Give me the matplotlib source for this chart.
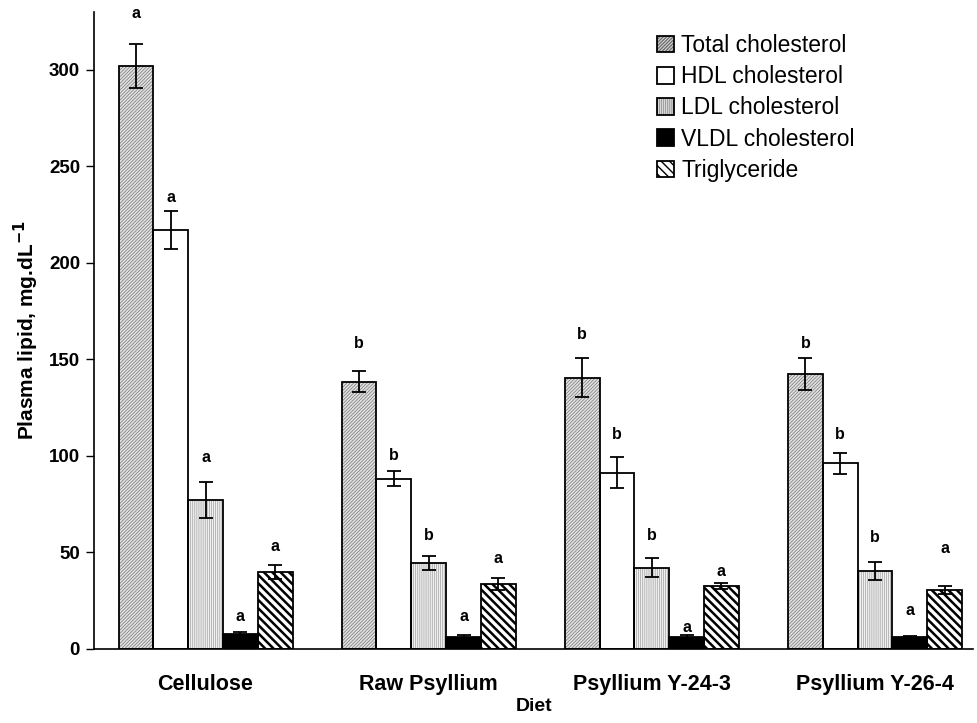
import numpy as np
import matplotlib.pyplot as plt

plt.rcParams["font.family"] = ["Liberation Sans", "DejaVu Sans"]

# ---------------- data ----------------
diets = ["Cellulose", "Raw Psyllium", "Psyllium Y-24-3", "Psyllium Y-26-4"]
series = ["Total cholesterol", "HDL cholesterol", "LDL cholesterol",
          "VLDL cholesterol", "Triglyceride"]

means = [
    [302, 138.5, 140.5, 142.5],   # total
    [217, 88.3, 91.4, 96.1],      # HDL
    [77.4, 44.6, 42.1, 40.5],     # LDL
    [8.0, 6.2, 6.2, 6.2],         # VLDL
    [40.0, 33.7, 32.7, 30.6],     # TG
]
errors = [
    [11.5, 5.5, 10.0, 8.5],
    [10.0, 3.7, 8.0, 5.5],
    [9.3, 3.7, 5.0, 4.8],
    [0.8, 0.8, 0.8, 0.3],
    [3.6, 3.0, 1.6, 2.0],
]
letters = [
    ["a", "b", "b", "b"],
    ["a", "b", "b", "b"],
    ["a", "b", "b", "b"],
    ["a", "a", "a", "a"],
    ["a", "a", "a", "a"],
]
letter_y = [
    [329, 158, 163, 158],
    [234, 100, 111, 111],
    [99, 59, 59, 58],
    [17, 17, 11, 20],
    [53, 47, 40, 52],
]

# fill styles: face, hatch colour, hatch, hatch linewidth
styles = [
    ("#e0e0e0", "#6e6e6e", "//////////", 0.45),
    ("white", "white", "", 0.5),
    ("#f0f0f0", "#a0a0a0", "||||||||", 0.5),
    ("black", "black", "", 0.5),
    ("white", "black", "\\\\\\\\", 1.8),
]

fig = plt.figure(figsize=(9.78, 7.23), dpi=100)
ax = fig.add_axes([0.0961, 0.1024, 0.899, 0.881])

x = np.arange(len(diets))
width = 0.156
handles = []
for i, name in enumerate(series):
    pos = x + (i - 2) * width
    face, hcol, hatch, hlw = styles[i]
    with plt.rc_context({"hatch.linewidth": hlw}):
        b1 = ax.bar(pos, means[i], width, color=face, edgecolor=hcol,
                    hatch=hatch, linewidth=0, zorder=2)
    b2 = ax.bar(pos, means[i], width, fill=False, edgecolor="black",
                linewidth=1.3, zorder=3)
    ax.errorbar(pos, means[i], yerr=errors[i], fmt="none", ecolor="black",
                elinewidth=1.3, capsize=5, capthick=1.3, zorder=4)
    for j in range(len(diets)):
        ax.text(pos[j], letter_y[i][j], letters[i][j], ha="center",
                va="center", fontsize=11.5, fontweight="bold")
    handles.append((b1.patches[0], b2.patches[0]))

ax.set_xlim(-0.5, 3.44)
ax.set_ylim(0, 330)
ax.set_yticks(np.arange(0, 301, 50))
ax.set_xticks(x)
ax.set_xticklabels(diets, fontsize=15.5, fontweight="bold")
ax.tick_params(axis="x", length=0, pad=18)
ax.tick_params(axis="y", length=6, width=1, labelsize=13.5, pad=4)
for lab in ax.get_yticklabels():
    lab.set_fontweight("bold")

ax.spines["top"].set_visible(False)
ax.spines["right"].set_visible(False)
ax.spines["left"].set_linewidth(1.2)
ax.spines["bottom"].set_linewidth(1.2)

ax.set_xlabel("Diet", fontsize=14, fontweight="bold", labelpad=2)
ax.set_ylabel(r"Plasma lipid, mg.dL$^{\mathbf{-1}}$", fontsize=15,
              fontweight="bold", labelpad=6)

fig.legend(handles, series, loc="upper left",
           bbox_to_anchor=(0.672, 0.953), frameon=False, fontsize=16.5,
           handlelength=0.75, handleheight=0.75, handletextpad=0.3,
           labelspacing=0.36, borderpad=0, borderaxespad=0)

fig.savefig("out.png", dpi=100)
